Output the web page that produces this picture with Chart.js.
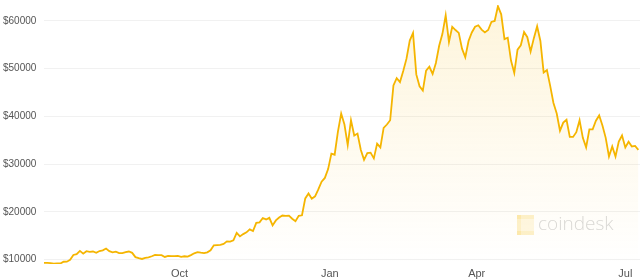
<!DOCTYPE html>
<html>
<head>
<meta charset="utf-8">
<script src="https://cdn.jsdelivr.net/npm/chart.js@4/dist/chart.umd.min.js"></script>
<style>
html,body{margin:0;padding:0;background:#fff;}
#wrap{width:640px;height:280px;position:relative;}
</style>
</head>
<body>
<div id="wrap"><canvas id="c" width="640" height="280"></canvas></div>
<script>
// Bitcoin price (USD), one value every 2 days starting 2020-07-10
const startDate = '2020-07-10';
const stepDays = 2;
const prices = [
  9280, 9300, 9250, 9130, 9160, 9160, 9530, 9540, 9930, 10950,
  11120, 11800, 11230, 11750, 11600, 11680, 11400, 11780, 11910, 12300,
  11750, 11520, 11650, 11350, 11330, 11530, 11680, 11400, 10500, 10280,
  10120, 10360, 10450, 10680, 10950, 10940, 10920, 10540, 10740, 10730,
  10700, 10780, 10570, 10680, 10600, 10930, 11300, 11550, 11430, 11330,
  11500, 11920, 12990, 13030, 13070, 13280, 13800, 13740, 14030, 15600,
  14850, 15330, 15700, 16320, 15960, 17680, 17800, 18700, 18400, 18740,
  17150, 18200, 18800, 19220, 19150, 19200, 18550, 18050, 19150, 19270,
  22800, 23850, 22750, 23250, 24700, 26300, 27100, 28950, 32200, 31970,
  36800, 40600, 38300, 34000, 39200, 36000, 36400, 33000, 30900, 32300,
  32400, 31200, 34300, 33500, 37600, 38300, 39200, 46500, 48000, 47200,
  49500, 52100, 55900, 57500, 48800, 46300, 45400, 49600, 50400, 48900,
  51200, 54800, 57300, 61200, 55600, 58800, 58100, 57500, 54200, 52400,
  55800, 57600, 58800, 59100, 58200, 57600, 58100, 59800, 60000, 63100,
  61400, 56200, 56500, 51700, 49100, 54000, 54900, 57700, 56600, 53600,
  56400, 58900, 55800, 49200, 49700, 46400, 42800, 40600, 37000, 38700,
  39300, 35700, 35700, 36700, 39200, 35500, 33500, 37300, 37300, 39100,
  40200, 38100, 35500, 31600, 33700, 31600, 34700, 36000, 33500, 34700,
  33700, 33800, 33000
];
const endDate = '2021-07-10';
const tickDates = ['2020-10-01', '2021-01-01', '2021-04-01', '2021-07-01'];
const tickLabels = ['Oct', 'Jan', 'Apr', 'Jul'];
const yTicks = [10000, 20000, 30000, 40000, 50000, 60000];
const yMin = 9060;
const yMax = 63350;

const DAY = 86400000;
const t0 = Date.parse(startDate + 'T00:00:00Z');
const dayOf = d => Math.round((Date.parse(d + 'T00:00:00Z') - t0) / DAY);
const points = prices.map((v, i) => ({ x: i * stepDays, y: v }));
const tickDays = tickDates.map(dayOf);

const LINE = '#f5b500';

const watermark = {
  id: 'watermark',
  beforeDatasetsDraw(chart) {
    const { ctx, chartArea: a } = chart;
    ctx.save();
    const ix = a.right - 123, iy = a.bottom - 49;
    ctx.fillStyle = 'rgba(250,225,140,0.45)';
    ctx.fillRect(ix, iy, 17, 4);
    ctx.fillRect(ix, iy, 4, 20);
    ctx.fillRect(ix, iy + 16, 17, 4);
    ctx.fillStyle = 'rgba(250,225,140,0.25)';
    ctx.fillRect(ix + 4, iy + 4, 13, 12);
    ctx.fillStyle = '#d9d9d9';
    ctx.font = '300 19px "Open Sans", "Liberation Sans", sans-serif';
    ctx.textBaseline = 'middle';
    ctx.fillText('coindesk', ix + 21, iy + 10);
    ctx.restore();
  }
};

new Chart(document.getElementById('c'), {
  type: 'line',
  data: {
    datasets: [{
      data: points,
      borderColor: LINE,
      borderWidth: 1.8,
      pointRadius: 0,
      tension: 0,
      fill: 'start',
      backgroundColor(ctx) {
        const a = ctx.chart.chartArea;
        if (!a) return 'rgba(247,182,0,0.1)';
        const g = ctx.chart.ctx.createLinearGradient(0, a.top, 0, a.bottom);
        g.addColorStop(0, 'rgba(247,190,30,0.16)');
        g.addColorStop(0.55, 'rgba(247,190,30,0.07)');
        g.addColorStop(1, 'rgba(247,190,30,0)');
        return g;
      }
    }]
  },
  options: {
    responsive: false,
    animation: false,
    layout: { padding: { left: 3, right: 0, top: 0, bottom: 0 } },
    plugins: { legend: { display: false }, tooltip: { enabled: false } },
    scales: {
      x: {
        type: 'linear',
        min: 0,
        max: dayOf(endDate),
        grid: { display: false, drawTicks: false },
        border: { display: false },
        afterBuildTicks(scale) { scale.ticks = tickDays.map(v => ({ value: v })); },
        afterFit(scale) { scale.height = 16; },
        ticks: {
          autoSkip: false,
          maxRotation: 0,
          padding: 3,
          color: '#555',
          font: { family: '"Liberation Sans", Arial, sans-serif', size: 11 },
          callback(v) { const i = tickDays.indexOf(v); return i >= 0 ? tickLabels[i] : ''; }
        }
      },
      y: {
        min: yMin,
        max: yMax,
        grid: { color: '#f1f1f1', lineWidth: 1, drawTicks: false },
        border: { display: false },
        afterBuildTicks(scale) { scale.ticks = yTicks.map(v => ({ value: v })); },
        afterFit(scale) { scale.width = 41; },
        ticks: {
          padding: 0,
          crossAlign: 'far',
          color: '#555',
          font: { family: '"Liberation Sans", Arial, sans-serif', size: 10, lineHeight: 1 },
          callback: v => '$' + v
        }
      }
    }
  },
  plugins: [watermark]
});
</script>
</body>
</html>
